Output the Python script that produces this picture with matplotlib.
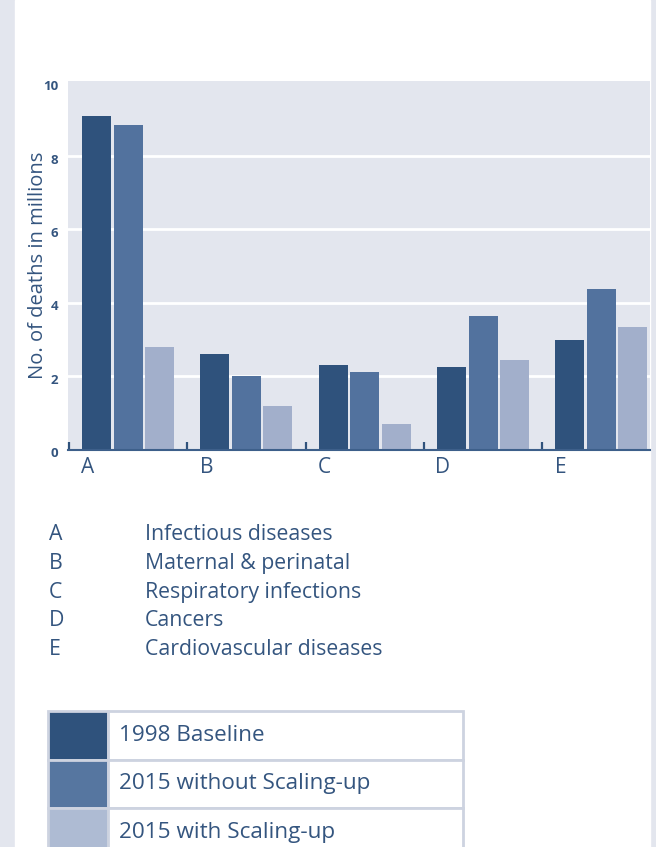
import numpy as np
import matplotlib.pyplot as plt
from matplotlib.patches import Rectangle
from matplotlib.transforms import ScaledTranslation, blended_transform_factory

plt.rcParams['font.family'] = ['Open Sans', 'DejaVu Sans']

groups = ['A', 'B', 'C', 'D', 'E']
names = ['Infectious diseases', 'Maternal & perinatal', 'Respiratory infections',
         'Cancers', 'Cardiovascular diseases']
series = ['1998 Baseline', '2015 without Scaling-up', '2015 with Scaling-up']
baseline = [9.1, 2.6, 2.3, 2.25, 2.98]
no_scale = [8.85, 2.0, 2.11, 3.64, 4.37]
with_scale = [2.8, 1.19, 0.7, 2.44, 3.33]
yticks = [0, 2, 4, 6, 8, 10]

bar_cols = ['#2f527c', '#52729e', '#a2afcb']
leg_cols = ['#2f527c', '#5676a0', '#aebbd3']
txt = '#34557f'
bg = '#e3e6ee'

fig = plt.figure(figsize=(6.56, 8.47), dpi=100)
W, H = 656, 847

# page: grey strips, white panel
fig.patches.append(Rectangle((0, 0), 1, 1, transform=fig.transFigure,
                             color=bg, zorder=-3))
fig.patches.append(Rectangle((15 / W, 0), 635 / W, 1, transform=fig.transFigure,
                             color='white', zorder=-2))

ax = fig.add_axes([68 / W, 1 - 449.6 / H, 582 / W, 368.6 / H])
ax.set_facecolor(bg)
x = np.arange(len(groups))
offs = [0.232, 0.499, 0.765]
for vals, off, c in zip([baseline, no_scale, with_scale], offs, bar_cols):
    ax.bar(x + off, vals, width=0.245, color=c, zorder=3)

ax.set_xlim(-0.01, 4.91)
ax.set_ylim(0, 10.04)
ax.set_yticks(yticks)
ax.set_yticklabels([])
ax.tick_params(axis='y', length=0)
ytr = blended_transform_factory(ax.transAxes, ax.transData) + \
    ScaledTranslation(-7 / 72, -3 / 72, fig.dpi_scale_trans)
for v in yticks:
    ax.text(0, v, str(v), transform=ytr, ha='right', va='center', fontsize=9.5,
            fontweight='bold', color=txt)
for v in yticks[1:-1]:
    ax.axhline(v, color='white', lw=2, zorder=1)

ax.set_xticks(x)
ax.set_xticklabels([])
ax.tick_params(axis='x', direction='in', length=6, width=1.6, color='#2f527c')
for s in ['top', 'right', 'left']:
    ax.spines[s].set_visible(False)
ax.spines['bottom'].set_color('#3d5f8a')
ax.spines['bottom'].set_linewidth(1.5)
ax.spines['bottom'].set_zorder(4)

for i, g in enumerate(groups):
    ax.text(i + 0.16, -0.48, g, ha='center', va='center', fontsize=15,
            color=txt)

ax.set_ylabel('No. of deaths in millions', fontsize=14.5, color=txt, labelpad=11)

# category key
for i, (g, n) in enumerate(zip(groups, names)):
    yy = 1 - (535 + 28.6 * i) / H
    fig.text(49 / W, yy, g, fontsize=15.3, color=txt, va='center')
    fig.text(145 / W, yy, n, fontsize=15.3, color=txt, va='center')

# series key as a table
row_h = 48.5
top = 711
for i, (s, c) in enumerate(zip(series, leg_cols)):
    y0 = 1 - (top + row_h * (i + 1)) / H
    fig.patches.append(Rectangle((48 / W, y0), 60 / W, row_h / H,
                                 transform=fig.transFigure, facecolor=c,
                                 edgecolor='#cdd3e0', lw=2))
    fig.patches.append(Rectangle((108 / W, y0), 355 / W, row_h / H,
                                 transform=fig.transFigure, facecolor='white',
                                 edgecolor='#cdd3e0', lw=2))
    fig.text(119 / W, y0 + row_h / 2 / H, s, fontsize=16.2, color=txt,
             va='center')

fig.savefig('out.png', dpi=100)
